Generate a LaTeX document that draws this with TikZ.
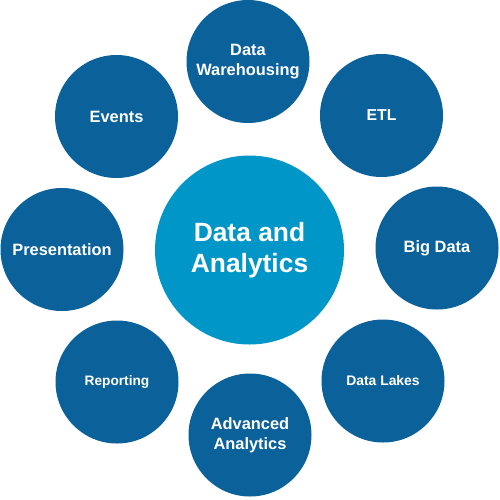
\documentclass[tikz,border=0pt]{standalone}
\usepackage{fontspec}
\setmainfont{Liberation Sans}
\definecolor{darkb}{HTML}{0B6199}
\definecolor{lightb}{HTML}{0096C8}
\begin{document}
\begin{tikzpicture}[x=1pt,y=-1pt,
  outer/.style={circle,fill=darkb,minimum size=123pt,inner sep=0pt,text=white,align=center,font=\bfseries\fontsize{16.4}{19.5}\selectfont},
  inner/.style={circle,fill=lightb,minimum size=189pt,inner sep=0pt,text=white,align=center,font=\bfseries\fontsize{26.4}{30.7}\selectfont}]
\useasboundingbox (0,0) rectangle (500,499);
\node[inner] (center) at (249.5,250) {Data and\\Analytics};
\node[outer] (dw) at (248,61.5) {Data\\Warehousing};
\node[outer,font=\bfseries\fontsize{15.8}{19}\selectfont] (etl) at (381.5,115.5) {ETL};
\node[outer] (bd) at (437,248) {Big Data};
\node[outer,font=\bfseries\fontsize{13.9}{17}\selectfont] (dl) at (383,381) {Data Lakes};
\node[outer] (aa) at (250,435) {Advanced\\Analytics};
\node[outer,font=\bfseries\fontsize{13.7}{17}\selectfont] (rep) at (117,382) {Reporting};
\node[outer] (pres) at (62,249.5) {Presentation};
\node[outer] (ev) at (116.5,116.5) {Events};
\end{tikzpicture}
\end{document}
